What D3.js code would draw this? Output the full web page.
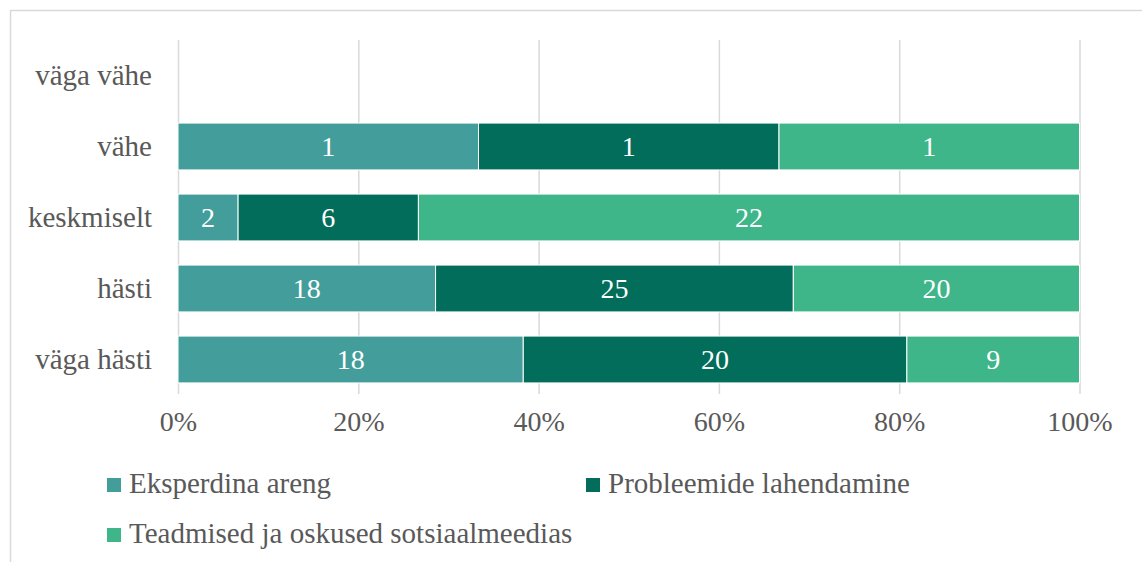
<!DOCTYPE html>
<html>
<head>
<meta charset="utf-8">
<script src="https://cdn.jsdelivr.net/npm/d3@7"></script>
<style>
  html, body { margin: 0; padding: 0; background: #fff; }
  svg { display: block; }
  text { font-family: "Liberation Serif", "Times New Roman", serif; }
</style>
</head>
<body>
<svg id="chart" width="1142" height="562"></svg>
<script>
const categories = ["väga vähe", "vähe", "keskmiselt", "hästi", "väga hästi"];
const seriesNames = ["Eksperdina areng", "Probleemide lahendamine", "Teadmised ja oskused sotsiaalmeedias"];
const eksperdinaAreng = [0, 1, 2, 18, 18];
const probleemideLahendamine = [0, 1, 6, 25, 20];
const teadmisedJaOskused = [0, 1, 22, 20, 9];
const seriesColors = ["#439E9B", "#026D5A", "#3EB68A"];
const xTicks = [0, 0.2, 0.4, 0.6, 0.8, 1.0];

const seriesValues = [eksperdinaAreng, probleemideLahendamine, teadmisedJaOskused];
const rows = categories.map((c, i) => {
  const o = { cat: c };
  seriesNames.forEach((s, j) => o[s] = seriesValues[j][i]);
  o.total = d3.sum(seriesValues, v => v[i]);
  return o;
});
const stack = d3.stack().keys(seriesNames)
  .value((d, k) => d.total ? d[k] / d.total : 0);
const stacked = stack(rows);

const svg = d3.select("#chart");
const textColor = "#595959";
const fontSize = 28;

// outer frame
svg.append("rect").attr("x", 10.5).attr("y", 10.5).attr("width", 1300).attr("height", 700)
  .attr("fill", "none").attr("stroke", "#d9d9d9").attr("stroke-width", 1.5);

const x = d3.scaleLinear().domain([0, 1]).range([178, 1079.5]);
const y = d3.scaleBand().domain(categories).range([40, 395]).paddingInner(0.34).paddingOuter(0.17);

// gridlines
const grid = svg.append("g").attr("transform", "translate(0,394)")
  .call(d3.axisBottom(x).tickValues(xTicks).tickSize(-354).tickFormat(""));
grid.select(".domain").remove();
grid.selectAll(".tick line").attr("stroke", "#d9d9d9").attr("stroke-width", 1.5);

// bars
const layer = svg.append("g").selectAll("g").data(stacked).join("g")
  .attr("fill", (d, i) => seriesColors[i]);
layer.selectAll("rect").data(d => d.map(p => ({ p, key: d.key }))).join("rect")
  .attr("x", d => x(d.p[0]))
  .attr("width", d => x(d.p[1]) - x(d.p[0]))
  .attr("y", d => y(d.p.data.cat))
  .attr("height", y.bandwidth())
  .attr("stroke", "#ffffff").attr("stroke-width", 1);

// data labels
layer.selectAll("text").data(d => d.map(p => ({ p, key: d.key }))).join("text")
  .filter(d => d.p.data[d.key] > 0)
  .attr("x", d => (x(d.p[0]) + x(d.p[1])) / 2)
  .attr("y", d => y(d.p.data.cat) + y.bandwidth() / 2)
  .attr("dy", "0.34em")
  .attr("text-anchor", "middle")
  .attr("fill", "#ffffff")
  .attr("font-size", fontSize)
  .text(d => d.p.data[d.key]);

// x axis labels
const xa = svg.append("g").attr("transform", "translate(0,411)")
  .call(d3.axisBottom(x).tickValues(xTicks).tickSize(0).tickPadding(0).tickFormat(d3.format(".0%")));
xa.select(".domain").remove();
xa.selectAll("text").attr("font-size", fontSize).attr("fill", textColor)
  .attr("font-family", "Liberation Serif, serif").attr("dy", "0.71em");

// y axis labels
const ya = svg.append("g").attr("transform", "translate(178,0)")
  .call(d3.axisLeft(y).tickSize(0).tickPadding(26));
ya.select(".domain").remove();
ya.selectAll("text").attr("font-size", 29).attr("fill", textColor)
  .attr("font-family", "Liberation Serif, serif").attr("dy", "0.32em");

// legend
const legendPos = [[107, 493], [586, 493], [107, 543]];
const lg = svg.append("g").selectAll("g").data(seriesNames).join("g")
  .attr("transform", (d, i) => `translate(${legendPos[i][0]},${legendPos[i][1]})`);
lg.append("rect").attr("x", 0).attr("y", -15).attr("width", 14).attr("height", 14)
  .attr("fill", (d, i) => seriesColors[i]);
lg.append("text").attr("x", 22).attr("y", 0).attr("font-size", 29).attr("fill", textColor)
  .text(d => d);
</script>
</body>
</html>
